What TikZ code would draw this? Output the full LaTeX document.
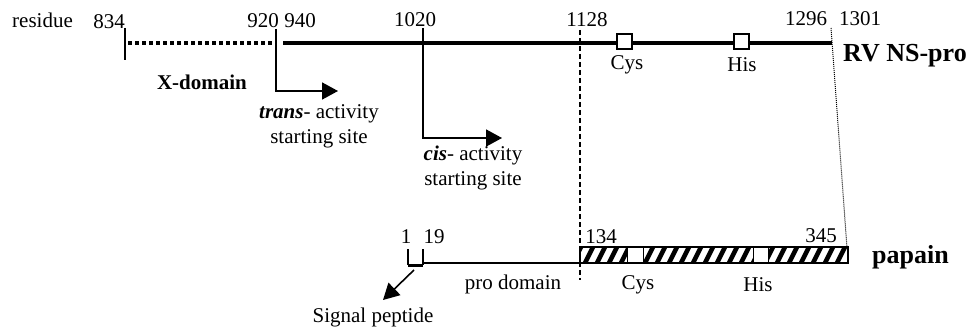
\documentclass[tikz,border=0pt]{standalone}
\usepackage{fontspec}
\setmainfont{Liberation Serif}
\usetikzlibrary{arrows.meta}
\begin{document}
\begin{tikzpicture}[x=1pt,y=-1pt,
  lbl/.style={inner sep=0pt,anchor=base,font=\fontsize{21}{25}\selectfont},
  big/.style={inner sep=0pt,anchor=base,font=\fontsize{26}{30}\selectfont\bfseries},
  thin/.style={line width=1.6pt},
  arr/.style={thin,-{Triangle[length=16pt,width=17pt]}},
  box/.style={draw,fill=white,line width=2pt,minimum size=15pt,inner sep=0pt}]
\useasboundingbox (0,0) rectangle (971,331);
% top labels
\node[lbl,anchor=base west] (res) at (12,28) {residue};
\node[lbl] (n834) at (109,29) {834};
\node[lbl] (n920) at (263,28) {920};
\node[lbl] (n940) at (300,28) {940};
\node[lbl] (n1020) at (415,27) {1020};
\node[lbl] (n1128) at (587,27) {1128};
\node[lbl] (n1296) at (806,26) {1296};
\node[lbl] (n1301) at (860,26) {1301};
% coordinates
\coordinate (t1) at (125,28);
\coordinate (t2) at (125,60);
\coordinate (xa) at (128,43);
\coordinate (xb) at (276,43);
\coordinate (sa) at (283,43);
\coordinate (sb) at (832,43);
% tick and X-domain
\draw[thin] (t1) -- (t2);
\draw[line width=4pt,dash pattern=on 4pt off 3pt] (xa) -- (xb);
\draw[line width=4pt] (sa) -- (sb);
\node[box] (cys1) at (624.5,41.5) {};
\node[box] (his1) at (741,42) {};
\node[lbl] (cysl1) at (627,70) {Cys};
\node[lbl] (hisl1) at (742,72) {His};
\node[big,anchor=base west] (rv) at (843,62) {RV NS-pro};
\node[lbl,font=\fontsize{21}{25}\selectfont\bfseries] (xdom) at (202,90) {X-domain};
% trans arrow
\coordinate (tr0) at (276,29);
\coordinate (tr1) at (276,91);
\coordinate (tr2) at (338,91);
\draw[arr] (tr0) -- (tr1) -- (tr2);
\node[lbl,align=center,anchor=north] (trans) at (319,104)
  {\textbf{\textit{trans}}- activity\\starting site};
% cis arrow
\coordinate (ci0) at (423,28);
\coordinate (ci1) at (423,138);
\coordinate (ci2) at (502,138);
\draw[arr] (ci0) -- (ci1) -- (ci2);
\node[lbl,align=center,anchor=north] (cis) at (473,146)
  {\textbf{\textit{cis}}- activity\\starting site};
% dashed 1128 line
\coordinate (d0) at (580,30);
\coordinate (d1) at (580,280);
\draw[line width=1.3pt,dash pattern=on 5pt off 3pt] (d0) -- (d1);
% dotted 1301 line
\coordinate (e0) at (831,28);
\coordinate (e1) at (847,248);
\draw[line width=1pt,dash pattern=on 1pt off 1pt] (e0) -- (e1);
% papain bar
\begin{scope}
\clip (580,247) rectangle (848,263);
\foreach \x in {572,584,...,860} {\draw[line width=4.5pt] (\x,265) -- (\x+10,245);}
\end{scope}
\node[draw,fill=white,line width=1pt,minimum width=16pt,minimum height=16pt,inner sep=0pt] (cys2) at (635,255) {};
\node[draw,fill=white,line width=1pt,minimum width=15pt,minimum height=16pt,inner sep=0pt] (his2) at (760.5,255) {};
\draw[line width=1.5pt] (580,247) rectangle (848,263);
\node[lbl] (cysl2) at (638,289) {Cys};
\node[lbl] (hisl2) at (758,291) {His};
\node[lbl] (n134) at (601,243) {134};
\node[lbl] (n345) at (821,242) {345};
\node[big,anchor=base west] (pap) at (872,263) {papain};
% pro domain line
\coordinate (p0) at (423,263);
\coordinate (p1) at (580,263);
\draw[thin] (p0) -- (p1);
\node[lbl] (prod) at (513,289) {pro domain};
% signal peptide bracket
\node[lbl] (n1) at (406,243) {1};
\node[lbl] (n19) at (434,243) {19};
\coordinate (b0) at (408,249);
\coordinate (b1) at (408,265);
\coordinate (b2) at (423,265);
\coordinate (b3) at (423,249);
\draw[thin] (b0) -- (b1);
\draw[thin] (b3) -- (b2);
\draw[line width=3pt] (b1) -- (b2);
\coordinate (sp0) at (414,270);
\coordinate (sp1) at (383,300);
\draw[arr] (sp0) -- (sp1);
\node[lbl] (sig) at (373,322) {Signal peptide};
\end{tikzpicture}
\end{document}
